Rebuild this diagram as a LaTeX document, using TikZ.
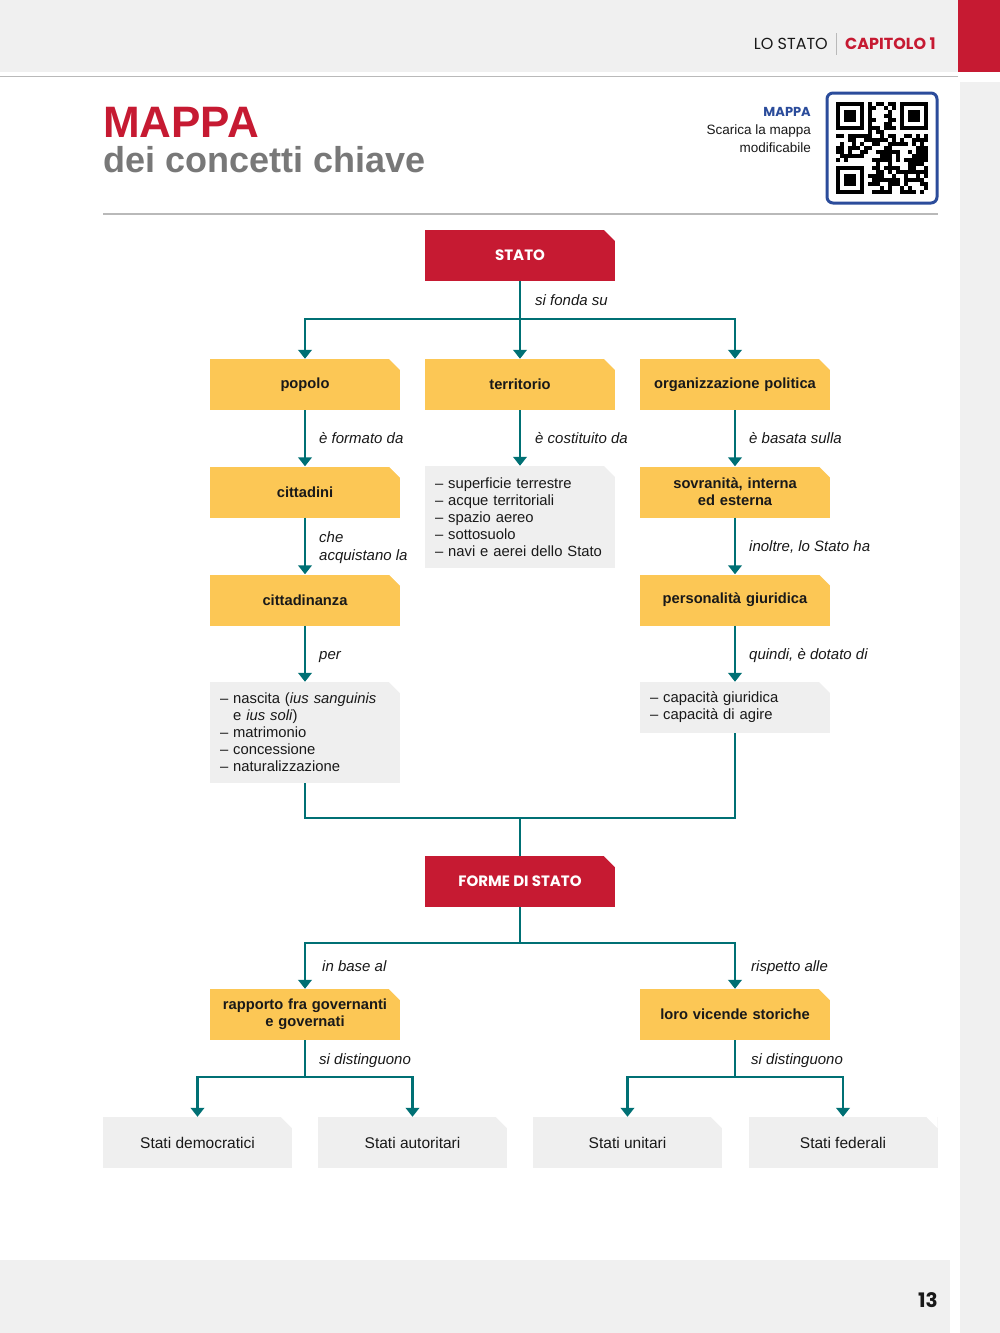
\documentclass[tikz,border=0pt]{standalone}
\usepackage{fontspec}
\setmainfont{Liberation Sans}
\newfontfamily\pop{Poppins}
\usetikzlibrary{arrows.meta}
\definecolor{mred}{RGB}{198,26,50}
\definecolor{myellow}{RGB}{252,199,85}
\definecolor{mgray}{RGB}{239,239,239}
\definecolor{hgray}{RGB}{240,240,240}
\definecolor{lgray}{RGB}{185,185,185}
\definecolor{teal1}{RGB}{0,112,116}
\definecolor{mblue}{RGB}{43,76,155}
\definecolor{tgray}{RGB}{120,120,120}
\definecolor{ink}{RGB}{25,25,25}
\begin{document}
\begin{tikzpicture}[x=1pt,y=-1pt,
  conn/.style={draw=teal1, line width=2.6pt},
  arr/.style={conn, -{Triangle[width=13.5pt,length=9pt]}},
  chamf/.style={path picture={\fill[white] (path picture bounding box.north east) -- ++(-11pt,0pt) -- ++(11pt,-11pt) -- cycle;}},
  redbox/.style={chamf, fill=mred, text=white, font=\pop\bfseries\fontsize{15}{18}\selectfont, minimum width=190pt, minimum height=51pt, inner sep=0pt},
  ybox/.style={chamf, fill=myellow, text=ink, font=\bfseries\fontsize{14.7}{17}\selectfont, minimum width=190pt, minimum height=51pt, inner sep=0pt, align=center, text width=180pt},
  gbox/.style={chamf, fill=mgray, text=ink, font=\fontsize{14.8}{17}\selectfont, minimum width=190pt, inner sep=0pt, align=left, text width=170pt},
  leaf/.style={chamf, fill=mgray, text=ink, font=\fontsize{15.5}{18}\selectfont, minimum width=189pt, minimum height=51pt, inner sep=0pt},
  lab/.style={anchor=base west, font=\itshape\fontsize{15}{18}\selectfont, inner sep=0pt, text=ink, align=left},
]
\useasboundingbox (0,0) rectangle (1000,1333);
\fill[white] (0,0) rectangle (1000,1333);
% page frame
\fill[hgray] (0,0) rectangle (958,72);
\fill[mred] (958,0) rectangle (1000,72);
\draw[lgray, line width=1.5pt] (0,76.5) -- (958,76.5);
\fill[hgray] (960,82) rectangle (1000,1333);
\fill[hgray] (0,1260) rectangle (950,1333);
\node[anchor=base east, font=\pop\fontsize{16}{18}\selectfont, text=ink, inner sep=0pt] (hdr) at (828,49) {LO STATO};
\draw[lgray, line width=0.8pt] (836,33) -- (836,55);
\node[anchor=base west, font=\pop\bfseries\fontsize{16}{18}\selectfont, text=mred, inner sep=0pt] (cap) at (845,49) {CAPITOLO 1};
\node[anchor=base east, font=\pop\bfseries\fontsize{20}{22}\selectfont, text=ink, inner sep=0pt] (pg) at (938,1307) {13};
% title
\node[anchor=base west, font=\bfseries\fontsize{44}{50}\selectfont, text=mred, inner sep=0pt] (t1) at (103,137) {MAPPA};
\node[anchor=base west, font=\bfseries\fontsize{36}{40}\selectfont, text=tgray, inner sep=0pt] (t2) at (103,172) {dei concetti chiave};
\draw[lgray, line width=1.2pt] (103,214) -- (938,214);
% QR block
\node[anchor=base east, font=\pop\bfseries\fontsize{13}{15}\selectfont, text=mblue, inner sep=0pt] (qm) at (811,116) {MAPPA};
\node[anchor=base east, font=\fontsize{13.5}{16}\selectfont, text=ink, inner sep=0pt] (q1) at (811,134) {Scarica la mappa};
\node[anchor=base east, font=\fontsize{13.5}{16}\selectfont, text=ink, inner sep=0pt] (q2) at (811,152) {modificabile};
\draw[mblue, line width=3pt, rounded corners=6pt, fill=white] (827,93) rectangle (937,203);
\pgfmathsetseed{11}
\foreach \i in {0,...,22}{\foreach \j in {0,...,22}{
  \pgfmathtruncatemacro\inf{((\i<8)&&(\j<8)) || ((\i>14)&&(\j<8)) || ((\i<8)&&(\j>14))}
  \pgfmathtruncatemacro\on{rnd<0.55}
  \ifnum\inf=0 \ifnum\on=1 \fill[black] (836+4*\i,102+4*\j) rectangle ++(4,4); \fi\fi
}}
\foreach \fx/\fy in {836/102, 900/102, 836/166}{
  \fill[black] (\fx,\fy) rectangle ++(28,28);
  \fill[white] (\fx+4,\fy+4) rectangle ++(20,20);
  \fill[black] (\fx+8,\fy+8) rectangle ++(12,12);
}
% ---------------- diagram nodes
\node[redbox] (stato) at (520,255.5) {STATO};
\node[ybox] (popolo) at (305,384.5) {popolo};
\node[ybox] (terr) at (520,384.5) {territorio};
\node[ybox] (org) at (735,384.5) {organizzazione politica};
\node[ybox] (citt) at (305,492) {cittadini};
\node[gbox, minimum height=102pt] (terrl) at (520,517) {– superficie terrestre\\– acque territoriali\\– spazio aereo\\– sottosuolo\\– navi e aerei dello Stato};
\node[ybox] (sovr) at (735,492) {sovranità, interna\\ed esterna};
\node[ybox] (cittz) at (305,600) {cittadinanza};
\node[ybox] (pers) at (735,600) {personalità giuridica};
\node[gbox, minimum height=101pt] (nasc) at (305,732.5) {– nascita (\textit{ius sanguinis}\\\phantom{– }e \textit{ius soli})\\– matrimonio\\– concessione\\– naturalizzazione};
\node[gbox, minimum height=51pt] (capac) at (735,707.5) {– capacità giuridica\\– capacità di agire};
\node[redbox] (forme) at (520,881.5) {FORME DI STATO};
\node[ybox] (rapp) at (305,1014.5) {rapporto fra governanti\\e governati};
\node[ybox] (vic) at (735,1014.5) {loro vicende storiche};
\node[leaf] (demo) at (197.5,1142.5) {Stati democratici};
\node[leaf] (auto) at (412.5,1142.5) {Stati autoritari};
\node[leaf] (unit) at (627.5,1142.5) {Stati unitari};
\node[leaf] (fede) at (843,1142.5) {Stati federali};
% junction points
\coordinate (j1) at (520,319);
\coordinate (j3) at (520,818);
\coordinate (j4) at (520,943);
\coordinate (j5) at (305,1077);
\coordinate (j6) at (735,1077);
% connectors
\draw[conn] (stato) -- (j1);
\draw[arr] (j1) -| (popolo);
\draw[arr] (j1) -| (org);
\draw[arr] (j1) -- (terr);
\draw[arr] (popolo) -- (citt);
\draw[arr] (terr) -- (terrl);
\draw[arr] (org) -- (sovr);
\draw[arr] (citt) -- (cittz);
\draw[arr] (sovr) -- (pers);
\draw[arr] (cittz) -- (nasc);
\draw[arr] (pers) -- (capac);
\draw[conn] (nasc.south) |- (j3) -| (capac.south);
\draw[conn] (j3) -- (forme);
\draw[conn] (forme) -- (j4);
\draw[arr] (j4) -| (rapp);
\draw[arr] (j4) -| (vic);
\draw[conn] (rapp) -- (j5);
\draw[arr] (j5) -| (demo);
\draw[arr] (j5) -| (auto);
\draw[conn] (vic) -- (j6);
\draw[arr] (j6) -| (unit);
\draw[arr] (j6) -| (fede);
% labels
\node[lab] (l1) at (535,305) {si fonda su};
\node[lab] (l2) at (319,443) {è formato da};
\node[lab] (l3) at (535,443) {è costituito da};
\node[lab] (l4) at (749,443) {è basata sulla};
\node[lab] (l5) at (319,560) {che\\acquistano la};
\node[lab] (l6) at (749,551) {inoltre, lo Stato ha};
\node[lab] (l7) at (319,659) {per};
\node[lab] (l8) at (749,659) {quindi, è dotato di};
\node[lab] (l9) at (322,971) {in base al};
\node[lab] (l10) at (751,971) {rispetto alle};
\node[lab] (l11) at (319,1064) {si distinguono};
\node[lab] (l12) at (751,1064) {si distinguono};
\end{tikzpicture}
\end{document}
